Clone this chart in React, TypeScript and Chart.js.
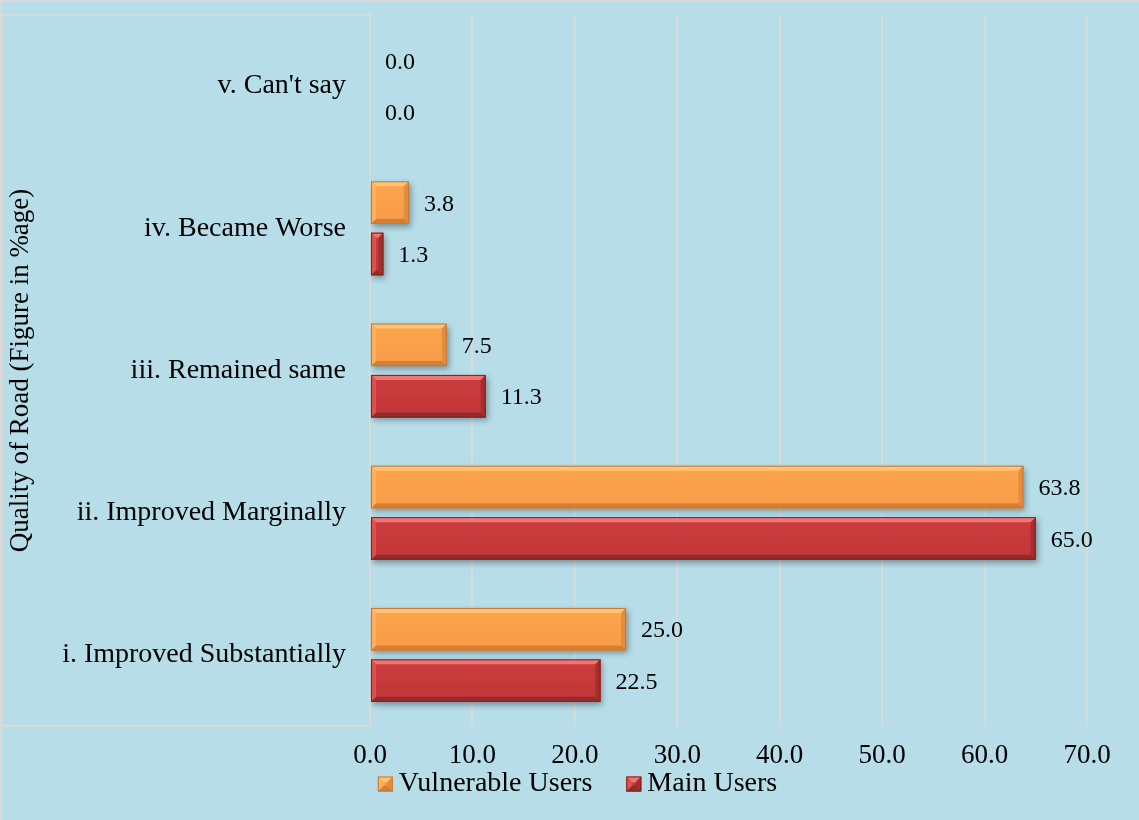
import React, { useEffect, useRef } from "react";
import { Chart, registerables } from "chart.js";

Chart.register(...registerables);

// Survey categories, listed top to bottom as they appear on the axis
const categories = [
  "v. Can't say",
  "iv. Became Worse",
  "iii. Remained same",
  "ii. Improved Marginally",
  "i. Improved Substantially",
];

// Share of respondents (%) per category
const vulnerableUsers = [0.0, 3.8, 7.5, 63.8, 25.0];
const mainUsers = [0.0, 1.3, 11.3, 65.0, 22.5];

const seriesLabels = ["Vulnerable Users", "Main Users"];

// Value axis range
const xMin = 0;
const xMax = 70;
const xStep = 10;

const yAxisTitle = "Quality of Road (Figure in %age)";

const FONT = "'Liberation Serif', 'Times New Roman', serif";
const BG = "#b7dde8";
const GRID = "#d9d9d9";

type Palette = {
  face: string;
  faceDark: string;
  top: string;
  left: string;
  right: string;
  bottom: string;
  edge: string;
};

const palettes: Palette[] = [
  {
    face: "#fca44f",
    faceDark: "#f79c46",
    top: "#fdc473",
    left: "#fdb15c",
    right: "#e48c3e",
    bottom: "#d38035",
    edge: "#c07a3c",
  },
  {
    face: "#cd3d3f",
    faceDark: "#c13638",
    top: "#f07676",
    left: "#da5150",
    right: "#a52d2e",
    bottom: "#952a2a",
    edge: "#7d2222",
  },
];

function poly(ctx: CanvasRenderingContext2D, pts: number[][], color: string) {
  ctx.beginPath();
  ctx.moveTo(pts[0][0], pts[0][1]);
  for (let i = 1; i < pts.length; i++) ctx.lineTo(pts[i][0], pts[i][1]);
  ctx.closePath();
  ctx.fillStyle = color;
  ctx.fill();
}

// Rectangle with a chiselled (bevelled) rim
function bevelRect(
  ctx: CanvasRenderingContext2D,
  l: number,
  t: number,
  r: number,
  b: number,
  pal: Palette,
  bevel: number
) {
  const w = r - l;
  const h = b - t;
  if (w <= 0.5 || h <= 0.5) return;
  const e = Math.min(bevel, w / 2, h / 2);
  const g = ctx.createLinearGradient(0, t, 0, b);
  g.addColorStop(0, pal.face);
  g.addColorStop(1, pal.faceDark);
  ctx.fillStyle = g;
  ctx.fillRect(l, t, w, h);
  poly(ctx, [[l, t], [r, t], [r - e, t + e], [l + e, t + e]], pal.top);
  poly(ctx, [[l, b], [r, b], [r - e, b - e], [l + e, b - e]], pal.bottom);
  poly(ctx, [[l, t], [l + e, t + e], [l + e, b - e], [l, b]], pal.left);
  poly(ctx, [[r, t], [r - e, t + e], [r - e, b - e], [r, b]], pal.right);
  ctx.strokeStyle = pal.edge;
  ctx.lineWidth = 1;
  ctx.strokeRect(l + 0.5, t + 0.5, w - 1, h - 1);
}

// Background, outer frame and the boxed category-label area
const backdropPlugin = {
  id: "backdrop",
  beforeDraw(chart: any) {
    const { ctx, width, height, chartArea } = chart;
    ctx.save();
    ctx.fillStyle = BG;
    ctx.fillRect(0, 0, width, height);
    ctx.strokeStyle = GRID;
    ctx.lineWidth = 2;
    ctx.beginPath();
    ctx.moveTo(0, 1);
    ctx.lineTo(width, 1);
    ctx.moveTo(1, 0);
    ctx.lineTo(1, height);
    ctx.stroke();
    ctx.strokeRect(2, chartArea.top, chartArea.left - 2, chartArea.bottom - chartArea.top);
    ctx.restore();
  },
};

// Drop shadow under bars, bevelled bar faces and value labels
const barDecorPlugin = {
  id: "barDecor",
  beforeDatasetsDraw(chart: any) {
    const ctx = chart.ctx;
    ctx.save();
    ctx.shadowColor = "rgba(0,0,0,0.35)";
    ctx.shadowBlur = 6;
    ctx.shadowOffsetX = 2;
    ctx.shadowOffsetY = 3;
  },
  afterDatasetsDraw(chart: any) {
    const ctx = chart.ctx;
    ctx.restore();
    ctx.save();
    chart.data.datasets.forEach((ds: any, di: number) => {
      const meta = chart.getDatasetMeta(di);
      meta.data.forEach((el: any, i: number) => {
        const p = el.getProps(["x", "y", "base", "height"], true);
        const l = Math.min(p.x, p.base);
        const r = Math.max(p.x, p.base);
        const t = p.y - p.height / 2;
        const b = p.y + p.height / 2;
        bevelRect(ctx, l, t, r, b, palettes[di], 5);
        const v = ds.data[i] as number;
        ctx.fillStyle = "#000";
        ctx.font = `24px ${FONT}`;
        ctx.textAlign = "left";
        ctx.textBaseline = "middle";
        ctx.fillText(v.toFixed(1), r + 15, p.y + 2);
      });
    });
    ctx.restore();
  },
};

// Legend row beneath the value axis
const legendPlugin = {
  id: "bottomLegend",
  afterDraw(chart: any) {
    const ctx = chart.ctx;
    ctx.save();
    ctx.font = `28px ${FONT}`;
    const box = 15;
    const gap = 6;
    const itemGap = 34;
    const items = chart.data.datasets.map((ds: any, i: number) => ({
      text: ds.label as string,
      pal: palettes[i],
      w: box + gap + ctx.measureText(ds.label).width,
    }));
    const total = items.reduce((s: number, it: any) => s + it.w, 0) + itemGap * (items.length - 1);
    let x = chart.width / 2 + 8 - total / 2;
    const cy = 784;
    items.forEach((it: any) => {
      bevelRect(ctx, x, cy - box / 2, x + box, cy + box / 2, it.pal, 6);
      ctx.fillStyle = "#000";
      ctx.textAlign = "left";
      ctx.textBaseline = "middle";
      ctx.fillText(it.text, x + box + gap, cy);
      x += it.w + itemGap;
    });
    ctx.restore();
  },
};

export default function App() {
  const canvasRef = useRef<HTMLCanvasElement>(null);

  useEffect(() => {
    document.body.style.margin = "0";
    const canvas = canvasRef.current;
    if (!canvas) return;

    const chart = new Chart(canvas, {
      type: "bar",
      data: {
        labels: categories,
        datasets: [
          {
            label: seriesLabels[0],
            data: vulnerableUsers,
            backgroundColor: palettes[0].face,
            borderWidth: 0,
            categoryPercentage: 0.723,
            barPercentage: 0.827,
          },
          {
            label: seriesLabels[1],
            data: mainUsers,
            backgroundColor: palettes[1].face,
            borderWidth: 0,
            categoryPercentage: 0.723,
            barPercentage: 0.827,
          },
        ],
      },
      options: {
        indexAxis: "y",
        responsive: false,
        animation: false,
        devicePixelRatio: 1,
        layout: { padding: { top: 15, right: 52, bottom: 50, left: 0 } },
        plugins: {
          legend: { display: false },
          tooltip: { enabled: false },
        },
        scales: {
          x: {
            min: xMin,
            max: xMax,
            border: { display: false },
            grid: { color: GRID, lineWidth: 2, drawTicks: false },
            ticks: {
              stepSize: xStep,
              padding: 14,
              color: "#000",
              font: { family: FONT, size: 27 },
              callback: (v: any) => Number(v).toFixed(1),
            },
            afterFit(scale: any) {
              scale.height = 44;
              scale.paddingLeft = 0;
              scale.paddingRight = 0;
            },
          },
          y: {
            border: { display: false },
            grid: { display: false, drawTicks: false },
            ticks: {
              padding: 24,
              color: "#000",
              font: { family: FONT, size: 28 },
            },
            title: {
              display: true,
              text: yAxisTitle,
              color: "#000",
              font: { family: FONT, size: 27 },
              padding: { top: 5, bottom: 0 },
            },
            afterFit(scale: any) {
              scale.width = 370;
              scale.paddingTop = 0;
              scale.paddingBottom = 0;
            },
          },
        },
      },
      plugins: [backdropPlugin, barDecorPlugin, legendPlugin],
    } as any);

    return () => chart.destroy();
  }, []);

  return (
    <div style={{ position: "absolute", left: 0, top: 0, width: 1139, height: 820 }}>
      <canvas ref={canvasRef} width={1139} height={820} style={{ display: "block" }} />
    </div>
  );
}
